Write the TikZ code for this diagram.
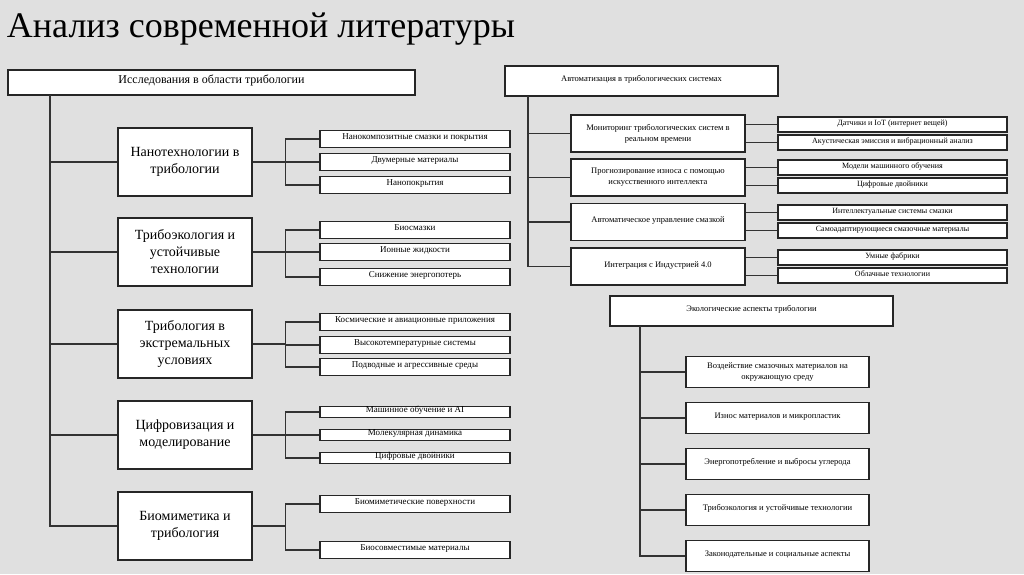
\documentclass[tikz,border=0pt]{standalone}
\usepackage{fontspec}
\setmainfont{Liberation Serif}
\begin{document}
\begin{tikzpicture}[x=1pt,y=-1pt,line width=1.3pt,
  bx/.style 2 args={draw=black!85,fill=white,minimum width=#1pt,minimum height=#2pt,inner sep=0pt,align=center},
  sx/.style 2 args={draw=black!85,fill=white,minimum width=#1pt,minimum height=#2pt,inner sep=0pt,text height=0.4em,text depth=0.3em},
  ln/.style={draw=black!80,line width=1.3pt}]
\fill[black!12] (0,0) rectangle (1024,574);
\node[anchor=west,font=\fontsize{36}{38}\selectfont] (title) at (3,29) {Анализ современной литературы};
% left
\node[sx={407}{25},font=\fontsize{12}{14}\selectfont] (lt) at (211.5,82.5) {Исследования в области трибологии};
\coordinate (lt0) at (50,95);
\foreach \n/\y/\t in {c1/162/{Нанотехнологии в\\трибологии},c2/252/{Трибоэкология и\\устойчивые\\технологии},c3/344/{Трибология в\\экстремальных\\условиях},c4/435/{Цифровизация и\\моделирование},c5/526/{Биомиметика и\\трибология}}{
  \node[bx={134}{68},font=\fontsize{14}{17}\selectfont] (\n) at (185,\y) {\t};
  \draw[ln] (lt0) |- (\n.west);
}
\foreach \n/\c/\y/\h/\t in {
 s11/c1/139/17/{Нанокомпозитные смазки и покрытия},
 s12/c1/162/17/{Двумерные материалы},
 s13/c1/185/17/{Нанопокрытия},
 s21/c2/230/17/{Биосмазки},
 s22/c2/252/17/{Ионные жидкости},
 s23/c2/277/17/{Снижение энергопотерь},
 s31/c3/322/17/{Космические и авиационные приложения},
 s32/c3/345/17/{Высокотемпературные системы},
 s33/c3/367/17/{Подводные и агрессивные среды},
 s41/c4/412/11/{Машинное обучение и AI},
 s42/c4/435/11/{Молекулярная динамика},
 s43/c4/458/11/{Цифровые двойники},
 s51/c5/504/17/{Биомиметические поверхности},
 s52/c5/550/17/{Биосовместимые материалы}}{
  \node[sx={190}{\h},font=\fontsize{9}{10}\selectfont] (\n) at (415,\y) {\t};
  \draw[ln] (\c.east) -| ([xshift=-34pt]\n.west) -- (\n.west);
}
% right automation
\node[sx={273}{30},font=\fontsize{8.5}{10}\selectfont] (at) at (641.5,81) {Автоматизация в трибологических системах};
\coordinate (at0) at (528,96);
\foreach \n/\y/\t in {l1/133.5/{Мониторинг трибологических систем в\\реальном времени},l2/177.5/{Прогнозирование износа с помощью\\искусственного интеллекта}}{
  \node[bx={174}{37},font=\fontsize{8.5}{11}\selectfont] (\n) at (658,\y) {\t};
  \draw[ln] (at0) |- (\n.west);
}
\foreach \n/\y/\t in {l3/222/{Автоматическое управление смазкой},l4/266.5/{Интеграция с Индустрией 4.0}}{
  \node[sx={174}{37},font=\fontsize{8.5}{11}\selectfont] (\n) at (658,\y) {\t};
  \draw[ln] (at0) |- (\n.west);
}
\foreach \n/\c/\y/\t in {
 r1/l1/124.5/{Датчики и IoT (интернет вещей)},
 r2/l1/142.5/{Акустическая эмиссия и вибрационный анализ},
 r3/l2/167.5/{Модели машинного обучения},
 r4/l2/185.5/{Цифровые двойники},
 r5/l3/212.5/{Интеллектуальные системы смазки},
 r6/l3/230.5/{Самоадаптирующиеся смазочные материалы},
 r7/l4/257.5/{Умные фабрики},
 r8/l4/275.5/{Облачные технологии}}{
  \node[sx={229}{15},font=\fontsize{8}{9}\selectfont] (\n) at (892.5,\y) {\t};
  \draw[ln] (\c.east |- \n.west) -- (\n.west);
}
% ecology
\node[sx={283}{30},font=\fontsize{8.5}{10}\selectfont] (eco) at (751.5,311) {Экологические аспекты трибологии};
\coordinate (eco0) at (640,326);
\node[bx={183}{31},font=\fontsize{8.5}{11}\selectfont] (e1) at (777.5,372) {Воздействие смазочных материалов на\\окружающую среду};
\draw[ln] (eco0) |- (e1.west);
\foreach \n/\y/\t in {e2/418/{Износ материалов и микропластик},e3/464/{Энергопотребление и выбросы углерода},e4/510/{Трибоэкология и устойчивые технологии},e5/556/{Законодательные и социальные аспекты}}{
  \node[sx={183}{31},font=\fontsize{8.5}{11}\selectfont] (\n) at (777.5,\y) {\t};
  \draw[ln] (eco0) |- (\n.west);
}
\end{tikzpicture}
\end{document}
